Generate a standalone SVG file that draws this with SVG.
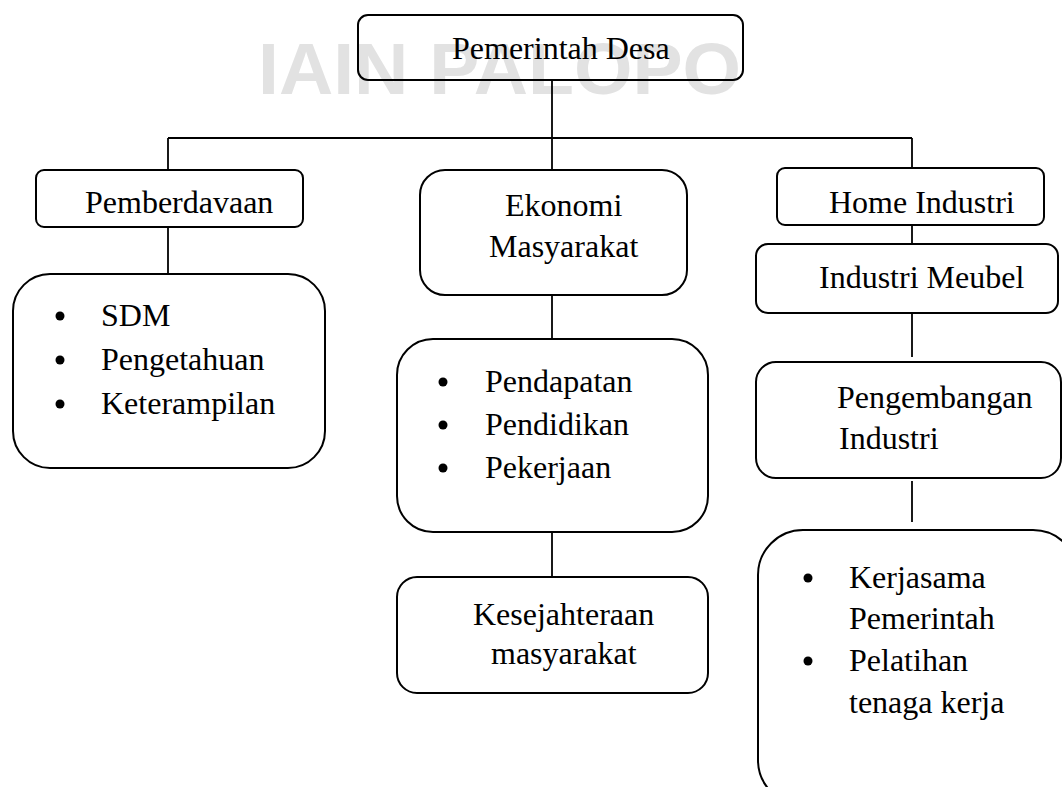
<svg xmlns="http://www.w3.org/2000/svg" width="1062" height="787" viewBox="0 0 1062 787">
<style>
.bg{fill:#ffffff}
.wm{font-family:"Liberation Sans",Arial,sans-serif;font-weight:bold;font-size:72px;fill:#e2e2e2}
.box{fill:none;stroke:#000;stroke-width:2}
.lbl{font-family:"Liberation Serif","Times New Roman",serif;font-size:32px;fill:#000}
.con line{stroke:#000;stroke-width:1.8}
.dot{fill:#000}
</style>
<rect class="bg" x="0" y="0" width="1062" height="787"/>
<text class="wm" x="258" y="94" textLength="483" lengthAdjust="spacingAndGlyphs">IAIN PALOPO</text>
<g id="connectors" class="con">
<line x1="552" y1="80" x2="552" y2="138"/>
<line x1="168" y1="138" x2="912" y2="138"/>
<line x1="168" y1="138" x2="168" y2="170"/>
<line x1="552" y1="138" x2="552" y2="170"/>
<line x1="912" y1="138" x2="912" y2="168"/>
<line x1="168" y1="227" x2="168" y2="274"/>
<line x1="552" y1="295" x2="552" y2="339"/>
<line x1="552" y1="532" x2="552" y2="577"/>
<line x1="912" y1="225" x2="912" y2="244"/>
<line x1="912" y1="313" x2="912" y2="357"/>
<line x1="912" y1="481" x2="912" y2="522"/>
</g>
<g id="pemerintah-desa">
<rect class="box" x="358" y="15" width="385" height="65" rx="10"/>
<text class="lbl" x="452" y="59">Pemerintah Desa</text>
</g>
<g id="pemberdayaan">
<rect class="box" x="36" y="170" width="267" height="57" rx="8"/>
<text class="lbl" x="85" y="213">Pemberdavaan</text>
</g>
<g id="pemberdayaan-list">
<rect class="box" x="13" y="274" width="312" height="194" rx="37"/>
<circle class="dot" cx="60" cy="316" r="4.5"/>
<circle class="dot" cx="60" cy="360" r="4.5"/>
<circle class="dot" cx="60" cy="404" r="4.5"/>
<text class="lbl" x="101" y="326">SDM</text>
<text class="lbl" x="101" y="370">Pengetahuan</text>
<text class="lbl" x="101" y="414">Keterampilan</text>
</g>
<g id="ekonomi-masyarakat">
<rect class="box" x="420" y="170" width="267" height="125" rx="25"/>
<text class="lbl" x="505" y="216">Ekonomi</text>
<text class="lbl" x="489" y="257">Masyarakat</text>
</g>
<g id="ekonomi-list">
<rect class="box" x="397" y="339" width="311" height="193" rx="36"/>
<circle class="dot" cx="443" cy="382" r="4.5"/>
<circle class="dot" cx="443" cy="425" r="4.5"/>
<circle class="dot" cx="443" cy="468" r="4.5"/>
<text class="lbl" x="485" y="392">Pendapatan</text>
<text class="lbl" x="485" y="435">Pendidikan</text>
<text class="lbl" x="485" y="478">Pekerjaan</text>
</g>
<g id="kesejahteraan">
<rect class="box" x="397" y="577" width="311" height="116" rx="20"/>
<text class="lbl" x="473" y="625">Kesejahteraan</text>
<text class="lbl" x="491" y="664">masyarakat</text>
</g>
<g id="home-industri">
<rect class="box" x="777" y="168" width="267" height="57" rx="8"/>
<text class="lbl" x="829" y="213">Home Industri</text>
</g>
<g id="industri-meubel">
<rect class="box" x="756" y="244" width="302" height="69" rx="12"/>
<text class="lbl" x="819" y="288">Industri Meubel</text>
</g>
<g id="pengembangan-industri">
<rect class="box" x="756" y="362" width="305" height="116" rx="20"/>
<text class="lbl" x="837" y="408">Pengembangan</text>
<text class="lbl" x="839" y="449">Industri</text>
</g>
<g id="kerjasama-list">
<rect class="box" x="758" y="530" width="320" height="275" rx="45"/>
<circle class="dot" cx="808" cy="578" r="4.5"/>
<circle class="dot" cx="808" cy="661" r="4.5"/>
<text class="lbl" x="849" y="588">Kerjasama</text>
<text class="lbl" x="849" y="629">Pemerintah</text>
<text class="lbl" x="849" y="671">Pelatihan</text>
<text class="lbl" x="849" y="713">tenaga kerja</text>
</g>
</svg>
